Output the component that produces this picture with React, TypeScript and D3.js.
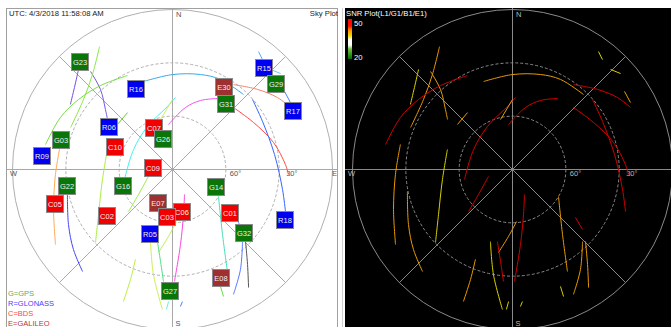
import React from "react";
import * as d3 from "d3";

const W = 671;
const H = 327;

// Satellites (azimuth deg, elevation deg)
const satIds = ["G23","R16","E30","R15","G29","G31","R17","R06","G03","R09","C07","G26","C10","C09","G22","G16","G14","C05","E07","C06","C03","C01","C02","R18","R05","G32","E08","G27"];
const satAz = [319.3,335.2,31.6,42.0,50.7,39.2,64.0,304.3,285.1,276.1,335.7,342.1,291.1,275.7,261.4,251.9,112.2,253.5,203.0,166.9,187.1,126.6,234.7,114.3,199.0,132.0,156.2,181.4];
const satEl = [10.6,40.4,35.2,13.5,14.5,42.8,14.3,47.1,25.3,16.4,64.1,71.7,55.6,78.7,29.7,61.0,63.3,20.8,69.8,65.2,62.8,49.4,45.2,20.3,51.9,36.2,23.0,21.9];

// Tracks: [az, el] points, sky-plot colour, SNR level (0 red, 1 orange, 2 yellow)
const trackPoints: number[][][] = [
  [[316.8,12.8],[309.9,18.1],[302.5,21.9]],
  [[320.1,18.1],[318.0,29.5],[311.8,39.4],[307.6,43.9]],
  [[329.3,9.6],[319.9,20.1],[308.2,26.3],[292.4,28.0]],
  [[334.4,31.4],[319.4,27.8],[306.7,24.1],[294.9,20.5],[281.1,17.2]],
  [[341.8,37.9],[0,36.6],[16.4,34.3],[28.1,32.6],[43.4,31.9]],
  [[32.4,42.7],[22.1,48.1],[11.8,54.4],[354.9,64.6]],
  [[35.7,31.2],[46.7,24.3],[55.6,18.4],[62.3,15.0]],
  [[44.5,41.1],[59.9,37.3],[75.0,31.2],[87.5,26.4],[92.5,24.7]],
  [[48.8,30.2],[61.9,32.6],[81.6,32.0],[100.3,27.1],[110.4,22.2]],
  [[39.3,10.1],[36.1,7.9]],
  [[44.4,11.2],[48.4,8.7]],
  [[55.1,13.2],[60.4,13.7]],
  [[258.2,62.4],[297.1,65.4],[329.8,62.0],[355.5,54.4],[2.4,49.4]],
  [[346.5,61.1],[0,50.6]],
  [[309.3,50.0],[321.7,49.2]],
  [[287.1,51.7],[261.9,50.2],[238.7,41.3],[226.5,30.3]],
  [[282.6,25.4],[267.6,24.1],[251.4,19.4],[237.3,11.8]],
  [[258.2,29.6],[242.1,23.8],[231.1,18.4],[221.4,13.5]],
  [[253.7,75.9],[233.7,66.3],[226.3,55.8]],
  [[175.6,60.6],[183.4,52.3],[189.6,42.6]],
  [[191.8,48.6],[187.4,37.8],[184.6,26.8]],
  [[197.0,47.6],[190.3,30.0],[184.1,11.0]],
  [[154.4,74.4],[166.3,63.9],[173.9,47.6],[179.0,27.0]],
  [[202.4,35.3],[200.9,23.8],[200.4,10.8]],
  [[181.7,15.7],[182.5,11.2]],
  [[175.7,15.5],[176.7,12.8]],
  [[120.4,60.0],[142.4,43.9],[151.7,24.8]],
  [[157.7,18.9],[158.1,13.0]],
  [[135.8,33.5],[145.8,22.0],[154.0,11.8]],
  [[134.6,32.3],[141.7,21.9],[147.2,11.0]],
  [[127.3,45.5],[130.6,38.1]],
];
const trackSkyColors = ["#7050e0","#7755ee","#88e844","#77dd44","#33aaee","#ee55ee","#f4846a","#ff4d4d","#3366ff","#55aaff","#55ccff","#4488ff","#44eeee","#ccee66","#66cc33","#aaee44","#ffaa55","#4444ff","#99ee44","#bbee55","#55dd88","#ccee55","#ff44dd","#bbee44","#66eedd","#5577ff","#44ddbb","#66dd44","#5577ff","#555555","#7799ff"];
const trackSnrLevel = [2,1,1,0,1,0,0,0,0,2,2,1,0,1,1,2,1,1,0,1,0,2,0,1,2,2,1,2,1,1,0];
const snrColors = ["#d00000","#e89a00","#d8d000"];

const elevRings = [0, 30, 60];
const ringLabels = ["30°", "60°"];
const legendLabels = ["G=GPS", "R=GLONASS", "C=BDS", "E=GALILEO"];
const legendColors = ["#66aa66", "#4444ff", "#ff4444", "#aa4040"];
const sysColors: Record<string, string> = { G: "#0a760a", R: "#0000f0", C: "#f00000", E: "#9e3030" };

const R = 160;
const rScale = d3.scaleLinear().domain([90, 0]).range([0, R]);
const font = "'Liberation Sans', Arial, sans-serif";

function proj(az: number, el: number, cx: number, cy: number): [number, number] {
  const r = rScale(el);
  const a = (az * Math.PI) / 180;
  return [cx + r * Math.sin(a), cy - r * Math.cos(a)];
}

const lineGen = d3.line<[number, number]>().curve(d3.curveCatmullRom.alpha(0.5));

function Grid({ cx, cy, line, ring, label, x0, x1, y0, y1, showE }: any) {
  const diag = [45, 135, 225, 315].map((az) => proj(az, 0, cx, cy));
  return (
    <g>
      {elevRings.map((e, i) => (
        <circle key={e} cx={cx} cy={cy} r={rScale(e)} fill="none" stroke={ring} strokeWidth={1}
          strokeDasharray={i === 0 ? undefined : "3,2"} />
      ))}
      <line x1={x0} x2={x1} y1={cy} y2={cy} stroke={line} />
      <line x1={cx} x2={cx} y1={y0} y2={y1} stroke={line} />
      <line x1={diag[0][0]} y1={diag[0][1]} x2={diag[2][0]} y2={diag[2][1]} stroke={line} />
      <line x1={diag[1][0]} y1={diag[1][1]} x2={diag[3][0]} y2={diag[3][1]} stroke={line} />
      <g fontFamily={font} fontSize={7.5} fill={label}>
        <text x={cx + 3.5} y={17}>N</text>
        <text x={x0 + 3} y={cy + 6.5}>W</text>
        {showE && <text x={x1 - 6} y={cy + 6.5}>E</text>}
        <text x={cx + 3} y={326}>S</text>
        <text x={cx + rScale(60) + 4} y={cy + 6.5}>{ringLabels[1]}</text>
        <text x={cx + rScale(30) + 7} y={cy + 6.5}>{ringLabels[0]}</text>
      </g>
    </g>
  );
}

export default function App() {
  const cxL = 172.5, cy = 169.5;
  const cxR = 512.5;
  return (
    <svg width={W} height={H} style={{ position: "absolute", left: 0, top: 0 }} xmlns="http://www.w3.org/2000/svg">
      <defs>
        <clipPath id="clipL"><rect x={7} y={9} width={331} height={318} /></clipPath>
        <clipPath id="clipR"><rect x={345} y={8} width={326} height={319} /></clipPath>
        <linearGradient id="snrBar" x1="0" y1="0" x2="0" y2="1">
          <stop offset="0" stopColor="#ff0000" />
          <stop offset="0.18" stopColor="#ff1000" />
          <stop offset="0.28" stopColor="#ff9000" />
          <stop offset="0.42" stopColor="#f0e000" />
          <stop offset="0.52" stopColor="#ffffff" />
          <stop offset="0.65" stopColor="#ffffff" />
          <stop offset="0.75" stopColor="#70c040" />
          <stop offset="1" stopColor="#007000" />
        </linearGradient>
      </defs>
      <rect x={0} y={0} width={W} height={H} fill="#ffffff" />
      {/* Left panel */}
      <rect x={6.5} y={8.5} width={331} height={330} fill="#ffffff" stroke="#a0a0a0" />
      <g clipPath="url(#clipL)">
        <Grid cx={cxL} cy={cy} line="#a8a8a8" ring="#b0b0b0" label="#555" x0={7} x1={338} y0={9} y1={327} showE={true} />
        {trackPoints.map((pts, i) => (
          <path key={i} d={lineGen(pts.map(([a, e]) => proj(a, e, cxL, cy))) || ""} fill="none"
            stroke={trackSkyColors[i]} strokeWidth={1} />
        ))}
        {satIds.map((id, i) => {
          const [x, y] = proj(satAz[i], satEl[i], cxL, cy);
          return (
            <g key={id}>
              <rect x={Math.round(x) - 8.5} y={Math.round(y) - 8.5} width={17} height={17}
                fill={sysColors[id[0]]} stroke="#8a8a8a" strokeWidth={1} />
              <text x={Math.round(x)} y={Math.round(y) + 3} textAnchor="middle" fontFamily={font}
                fontSize={7.5} fill="#eeeeee">{id}</text>
            </g>
          );
        })}
        <text x={9} y={16} fontFamily={font} fontSize={7.7} fill="#222">UTC: 4/3/2018 11:58:08 AM</text>
        <text x={338} y={16} textAnchor="end" fontFamily={font} fontSize={7.7} fill="#222">Sky Plot</text>
        {legendLabels.map((t, i) => (
          <text key={t} x={8} y={296 + i * 10} fontFamily={font} fontSize={7.5} fill={legendColors[i]}>{t}</text>
        ))}
      </g>
      {/* Right panel */}
      <line x1={342.5} x2={342.5} y1={8} y2={327} stroke="#d0d0d0" />
      <rect x={345} y={8} width={326} height={319} fill="#000000" />
      <g clipPath="url(#clipR)">
        <Grid cx={cxR} cy={cy} line="#8a8a8a" ring="#8a8a8a" label="#b8b8b8" x0={345} x1={678} y0={8} y1={327} showE={false} />
        {trackPoints.map((pts, i) => (
          <path key={i} d={lineGen(pts.map(([a, e]) => proj(a, e, cxR, cy))) || ""} fill="none"
            stroke={snrColors[trackSnrLevel[i]]} strokeWidth={1} />
        ))}
        <text x={346} y={16} fontFamily={font} fontSize={7.7} fill="#ffffff">SNR Plot(L1/G1/B1/E1)</text>
        <rect x={348} y={19} width={4} height={40} fill="url(#snrBar)" />
        <text x={354} y={26} fontFamily={font} fontSize={7.7} fill="#ffffff">50</text>
        <text x={354} y={60} fontFamily={font} fontSize={7.7} fill="#ffffff">20</text>
      </g>
    </svg>
  );
}
